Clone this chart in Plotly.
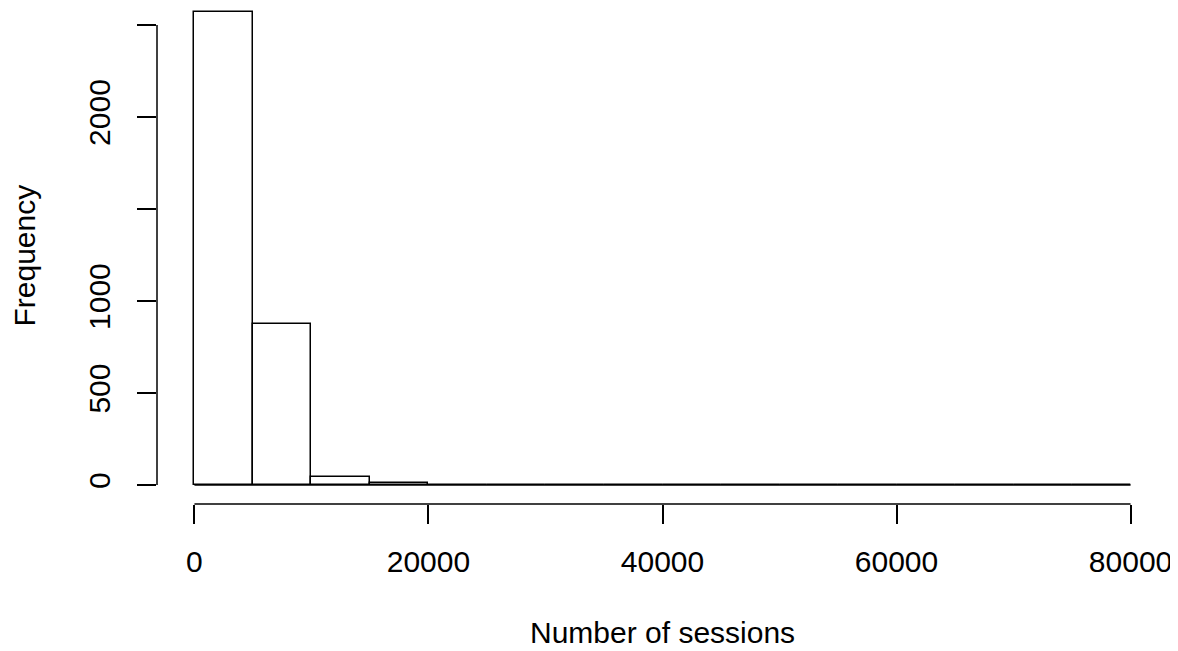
import plotly.graph_objects as go

# Histogram data (R-style hist of number of sessions)
breaks = [0, 5000, 10000, 15000, 20000, 25000, 30000, 35000, 40000,
          45000, 50000, 55000, 60000, 65000, 70000, 75000, 80000]
counts = [2569, 875, 45, 9, 0, 3, 0, 0, 2, 0, 0, 0, 0, 0, 1, 1]

x_ticks = [0, 20000, 40000, 60000, 80000]
x_ticktext = ["0", "20000", "40000", "60000", "80000"]
y_ticks = [0, 500, 1000, 1500, 2000, 2500]
y_ticktext = ["0", "500", "1000", "", "2000", ""]

x_title = "Number of sessions"
y_title = "Frequency"

FONT = "Liberation Sans, Arial, Helvetica, sans-serif"
FS = 30
LW = 1.5

centers = [(a + b) / 2 for a, b in zip(breaks[:-1], breaks[1:])]
widths = [b - a for a, b in zip(breaks[:-1], breaks[1:])]

fig = go.Figure()
# baseline drawn by zero-height bins
fig.add_trace(go.Scatter(x=[breaks[0], breaks[-1]], y=[0, 0], mode="lines",
                         line=dict(color="black", width=LW), hoverinfo="skip",
                         showlegend=False))
fig.add_trace(go.Bar(x=centers, y=counts, width=widths,
                     marker=dict(color="white", line=dict(color="black", width=LW)),
                     showlegend=False))

xspan = breaks[-1] - breaks[0]
ymax = max(counts)
fig.update_layout(
    width=1170, height=643,
    margin=dict(l=149, r=10, t=0, b=147),
    plot_bgcolor="white", paper_bgcolor="white",
    font=dict(family=FONT, size=FS, color="black"),
    bargap=0,
    xaxis=dict(range=[breaks[0] - 0.04 * xspan, breaks[-1] + 0.04 * xspan],
               tickvals=x_ticks, ticktext=x_ticktext,
               ticks="outside", ticklen=19, tickwidth=LW, tickcolor="black",
               showline=False, showgrid=False, zeroline=False,
               tickfont=dict(size=FS, family=FONT, color="black"),
               ticklabelstandoff=12),
    yaxis=dict(range=[-0.04 * ymax, 2592.4],
               tickvals=y_ticks, ticktext=y_ticktext, tickangle=-90,
               ticks="outside", ticklen=19, tickwidth=LW, tickcolor="black",
               showline=False, showgrid=False, zeroline=False,
               tickfont=dict(size=FS, family=FONT, color="black"),
               ticklabelstandoff=15),
    shapes=[
        dict(type="line", xref="x", yref="paper", x0=x_ticks[0], x1=x_ticks[-1],
             y0=0, y1=0, line=dict(color="black", width=LW)),
        dict(type="line", xref="paper", yref="y", x0=0, x1=0,
             y0=y_ticks[0], y1=y_ticks[-1], line=dict(color="black", width=LW)),
    ],
    annotations=[
        dict(text=x_title, xref="paper", yref="paper", x=0.5, y=0,
             xanchor="center", yanchor="top", yshift=-110, showarrow=False,
             font=dict(size=FS, family=FONT, color="black")),
        dict(text=y_title, xref="paper", yref="paper", x=0, y=0.5,
             xanchor="right", yanchor="middle", xshift=-115, textangle=-90,
             showarrow=False, font=dict(size=FS, family=FONT, color="black")),
    ],
)

fig.write_html("out.html")
